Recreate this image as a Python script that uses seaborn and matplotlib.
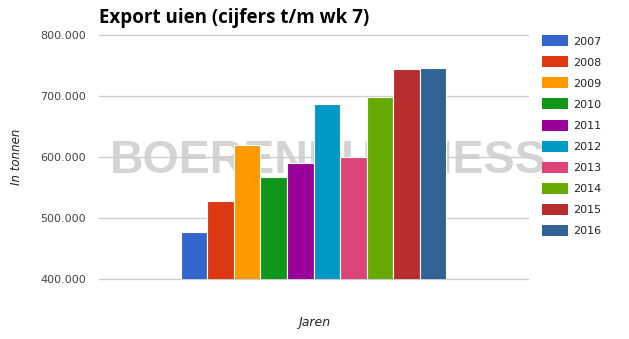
import matplotlib
matplotlib.use("Agg")
import matplotlib.pyplot as plt
import seaborn as sns
import pandas as pd
from matplotlib.ticker import FuncFormatter, MultipleLocator

years = ["2007", "2008", "2009", "2010", "2011", "2012", "2013", "2014", "2015", "2016"]
export_tonnen = [477000, 528000, 620000, 567000, 590000, 687000, 600000, 698000, 744000, 746000]
colors = ["#3366cc", "#dc3912", "#ff9900", "#109618", "#990099",
          "#0099c6", "#dd4477", "#66aa00", "#b82e2e", "#316395"]
title = "Export uien (cijfers t/m wk 7)"
ylabel = "In tonnen"
xlabel = "Jaren"
watermark = "BOERENBUSINESS"

df = pd.DataFrame({"groep": ["Jaren"] * len(years), "jaar": years, "waarde": export_tonnen})

sns.set_theme(style="white")
plt.rcParams["font.family"] = ["DejaVu Sans"]

W, H = 629, 339
fig = plt.figure(figsize=(W / 100, H / 100), dpi=100)
ax = fig.add_axes([99 / W, 1 - 279.3 / H, (528 - 99) / W, 244.3 / H])

sns.barplot(data=df, x="groep", y="waarde", hue="jaar", palette=colors,
            saturation=1, width=0.62, edgecolor="white", linewidth=0.8,
            ax=ax, zorder=2, legend=True)

ax.set_ylim(400000, 800000)
ax.set_xlim(-0.5, 0.5)
ax.yaxis.set_major_locator(MultipleLocator(100000))
ax.yaxis.set_major_formatter(FuncFormatter(lambda v, p: f"{int(round(v)):,}".replace(",", ".")))
ax.set_axisbelow(True)
ax.grid(axis="y", color="#cccccc", linewidth=1.0)
ax.grid(axis="x", visible=False)
for gl in ax.get_ygridlines():
    gl.set_clip_on(False)
for s in ax.spines.values():
    s.set_visible(False)
ax.set_xticks([])
ax.set_xlabel("")
ax.set_ylabel("")
ax.tick_params(axis="y", length=0, pad=9.4, labelsize=8, labelcolor="#444444")

# watermark behind gridlines
ax.text(110 / W, 1 - 173 / H, watermark, transform=fig.transFigure,
        family="Liberation Sans", fontweight="bold",
        fontsize=33.5, color="#d4d4d4", ha="left", va="baseline",
        zorder=0.1, clip_on=False)

# legend
handles, labels = ax.get_legend_handles_labels()
ax.legend(handles, labels, loc="upper left", bbox_to_anchor=(542 / W, 1 - 35.3 / H),
          bbox_transform=fig.transFigure, frameon=False, borderpad=0, borderaxespad=0,
          fontsize=8, handlelength=2.3, handleheight=1.15, labelspacing=0.88,
          handletextpad=0.48, labelcolor="#222222")
for h in ax.get_legend().legend_handles:
    h.set_edgecolor("none")

fig.text(99 / W, 1 - 22.5 / H, title, ha="left", va="baseline",
         fontsize=13.5, fontweight="bold", family="Open Sans", color="#000000")
fig.text(17 / W, 1 - 157 / H, ylabel, rotation=90, ha="center", va="center",
         fontsize=8.5, style="italic", color="#222222")
fig.text(314 / W, 1 - 322.5 / H, xlabel, ha="center", va="center",
         fontsize=9, style="italic", color="#222222")

fig.savefig("out.png", dpi=100)
